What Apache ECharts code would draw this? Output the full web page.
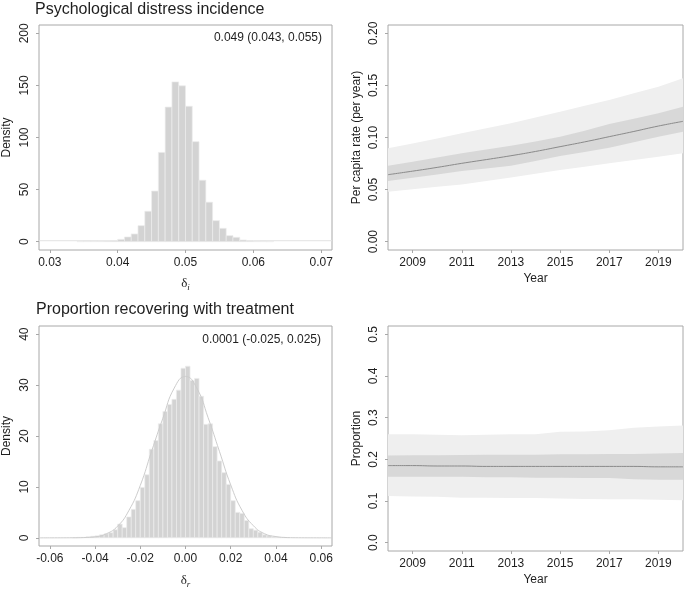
<!DOCTYPE html>
<html><head><meta charset="utf-8">
<script src="https://cdn.jsdelivr.net/npm/echarts@6/dist/echarts.min.js"></script>
<style>html,body{margin:0;padding:0;background:#fff}#c{width:685px;height:590px}</style>
</head><body><div id="c"></div>
<script>
// ---------- Data ----------
// Panel A: psychological distress incidence, posterior histogram (bin width 0.001)
const incBinStart = [0.034,0.035,0.036,0.037,0.038,0.039,0.040,0.041,0.042,0.043,0.044,0.045,0.046,0.047,0.048,0.049,0.050,0.051,0.052,0.053,0.054,0.055,0.056,0.057,0.058,0.059,0.060,0.061,0.062];
const incDensity  = [0.1,0.2,0.3,0.4,0.6,1.0,2.2,4.5,7.4,15.4,29.2,48.6,85.7,129.2,153.4,149.6,130.0,96.0,59.0,37.9,20.2,12.8,5.8,4.2,1.6,0.8,0.4,0.2,0.1];
const incBinWidth = 0.001;
const incPriorX = [0.0284,0.04,0.05,0.06,0.0716];
const incPriorY = [0.9,0.9,0.9,0.9,0.9];
const incXTicks = [0.03,0.04,0.05,0.06,0.07];
const incYTicks = [0,50,100,150,200];
const incSummary = '0.049 (0.043, 0.055)';

// Panel B: per capita incidence rate over time
const years = [2008,2009,2010,2011,2012,2013,2014,2015,2016,2017,2018,2019,2020];
const rateMedian  = [0.0643,0.0677,0.0713,0.0752,0.0788,0.0825,0.0866,0.0912,0.0958,0.1008,0.1058,0.1110,0.1155];
const rateInnerLo = [0.0582,0.0613,0.0645,0.0678,0.0703,0.0729,0.0775,0.0822,0.0862,0.0902,0.0955,0.1008,0.1056];
const rateInnerHi = [0.0729,0.0767,0.0807,0.0848,0.0884,0.0921,0.0962,0.1008,0.1066,0.1129,0.1180,0.1232,0.1296];
const rateOuterLo = [0.0480,0.0503,0.0527,0.0550,0.0583,0.0617,0.0652,0.0688,0.0720,0.0752,0.0785,0.0815,0.0850];
const rateOuterHi = [0.0896,0.0943,0.0991,0.1040,0.1088,0.1136,0.1192,0.1248,0.1304,0.1360,0.1424,0.1488,0.1570];
const yearTicks = [2009,2011,2013,2015,2017,2019];
const rateYTicks = [0,0.05,0.10,0.15,0.20];

// Panel C: proportion recovering with treatment, histogram (bin width 0.002)
const recBinStart = [-0.050,-0.048,-0.046,-0.044,-0.042,-0.040,-0.038,-0.036,-0.034,-0.032,-0.030,-0.028,-0.026,-0.024,-0.022,-0.020,-0.018,-0.016,-0.014,-0.012,-0.010,-0.008,-0.006,-0.004,-0.002,0.000,0.002,0.004,0.006,0.008,0.010,0.012,0.014,0.016,0.018,0.020,0.022,0.024,0.026,0.028,0.030,0.032,0.034,0.036,0.038,0.040,0.042,0.044];
const recDensity  = [0.05,0.1,0.1,0.2,0.3,0.4,0.6,0.8,1.0,1.6,2.7,2.0,4.1,5.6,7.3,9.9,12.4,17.4,19.1,22.4,24.8,26.2,27.2,29.0,33.3,33.7,30.9,31.3,27.8,22.3,22.4,17.9,15.1,12.8,10.5,7.3,5.0,4.8,3.4,1.8,1.5,1.1,0.6,0.4,0.2,0.15,0.1,0.05];
const recBinWidth = 0.002;
const recPriorX = [-0.0648,-0.05,-0.045,-0.04,-0.035,-0.03,-0.025,-0.02,-0.015,-0.01,-0.005,0,0.005,0.01,0.015,0.02,0.025,0.03,0.035,0.04,0.045,0.05,0.0648];
const recPriorY = [0,0.02,0.06,0.2,0.8,2.3,5.4,10.3,17.0,23.5,29.4,31.7,29.4,23.6,17.0,10.4,5.4,2.4,0.8,0.25,0.06,0.02,0];
const recXTicks = [-0.06,-0.04,-0.02,0.00,0.02,0.04,0.06];
const recYTicks = [0,10,20,30,40];
const recSummary = '0.0001 (-0.025, 0.025)';

// Panel D: proportion over time
const propMedian  = [0.185,0.185,0.184,0.184,0.183,0.183,0.183,0.183,0.183,0.183,0.183,0.182,0.182];
const propInnerLo = [0.158,0.158,0.158,0.158,0.157,0.157,0.156,0.156,0.155,0.155,0.152,0.151,0.151];
const propInnerHi = [0.209,0.210,0.210,0.2105,0.211,0.211,0.211,0.212,0.212,0.213,0.213,0.214,0.215];
const propOuterLo = [0.112,0.111,0.110,0.108,0.108,0.107,0.107,0.106,0.105,0.104,0.104,0.103,0.102];
const propOuterHi = [0.260,0.260,0.259,0.258,0.259,0.260,0.260,0.266,0.267,0.270,0.276,0.279,0.281];
const propYTicks = [0.0,0.1,0.2,0.3,0.4,0.5];

// ---------- Styling / helpers ----------
const FONT = "'Liberation Sans', Arial, Helvetica, sans-serif";
const TXT = '#1e1e1e';
const BOX = '#a8a8a8';

function xAxis(gi, min, max, ticks, fmt, name, gap, rich) {
  return {
    type: 'value', gridIndex: gi, min: min, max: max,
    splitLine: {show: false},
    axisLine: {show: false, onZero: false},
    axisTick: {show: true, length: 3, inside: false, customValues: ticks, lineStyle: {color: BOX}},
    axisLabel: {customValues: ticks, formatter: fmt, margin: 7, color: TXT, fontSize: 12, fontFamily: FONT, showMinLabel: true, showMaxLabel: true},
    name: name, nameLocation: 'middle', nameGap: gap,
    nameTextStyle: Object.assign({color: TXT, fontSize: 12, fontFamily: FONT}, rich ? {rich: rich} : {})
  };
}
function yAxis(gi, min, max, ticks, fmt, name, gap) {
  return {
    type: 'value', gridIndex: gi, min: min, max: max,
    splitLine: {show: false},
    axisLine: {show: false, onZero: false},
    axisTick: {show: true, length: 3, inside: false, customValues: ticks, lineStyle: {color: BOX}},
    axisLabel: {customValues: ticks, formatter: fmt, rotate: 90, margin: 8, color: TXT, fontSize: 12, fontFamily: FONT, showMinLabel: true, showMaxLabel: true},
    name: name, nameLocation: 'middle', nameGap: gap, nameRotate: 90,
    nameTextStyle: {color: TXT, fontSize: 12, fontFamily: FONT}
  };
}
function histSeries(i, starts, heights, width) {
  return {
    type: 'custom', xAxisIndex: i, yAxisIndex: i, silent: true, z: 2,
    data: starts.map((s, k) => [s, s + width, heights[k]]),
    encode: {x: [0, 1], y: 2},
    renderItem: function (params, api) {
      const p0 = api.coord([api.value(0), api.value(2)]);
      const p1 = api.coord([api.value(1), 0]);
      return {type: 'rect', shape: {x: p0[0], y: p0[1], width: p1[0] - p0[0], height: p1[1] - p0[1]},
              style: {fill: '#d3d3d3', stroke: '#ececec', lineWidth: 0.7}};
    }
  };
}
function bandSeries(i, xs, lo, hi, color, z) {
  return {
    type: 'custom', xAxisIndex: i, yAxisIndex: i, silent: true, z: z,
    data: xs.map((x, k) => [x, lo[k], hi[k]]),
    encode: {x: 0, y: [1, 2]},
    renderItem: function (params, api) {
      if (params.dataIndex !== 0) return null;
      const pts = [];
      for (let k = 0; k < xs.length; k++) pts.push(api.coord([xs[k], hi[k]]));
      for (let k = xs.length - 1; k >= 0; k--) pts.push(api.coord([xs[k], lo[k]]));
      return {type: 'polygon', shape: {points: pts}, style: {fill: color}};
    }
  };
}
function lineSeries(i, xs, ys, color, z, smooth) {
  return {
    type: 'line', xAxisIndex: i, yAxisIndex: i, silent: true, z: z,
    data: xs.map((x, k) => [x, ys[k]]), showSymbol: false, smooth: smooth,
    lineStyle: {color: color, width: 1}
  };
}

const gridBase = {show: true, borderColor: BOX, borderWidth: 1, backgroundColor: 'transparent', containLabel: false};
const deltaRich = {
  d: {fontFamily: "'Liberation Serif', 'DejaVu Serif', serif", fontSize: 13, color: TXT},
  s: {fontFamily: "'Liberation Serif', 'DejaVu Serif', serif", fontSize: 9, fontStyle: 'italic', color: TXT, padding: [7, 0, 0, 0]}
};

const chart = echarts.init(document.getElementById('c'), null, {renderer: 'canvas'});
chart.setOption({
  animation: false,
  backgroundColor: '#fff',
  grid: [
    Object.assign({left: 35, top: 25, width: 297, height: 225}, gridBase),
    Object.assign({left: 388, top: 25, width: 295, height: 225}, gridBase),
    Object.assign({left: 35, top: 326, width: 297, height: 225}, gridBase),
    Object.assign({left: 388, top: 326, width: 295, height: 225}, gridBase)
  ],
  xAxis: [
    xAxis(0, 0.0284, 0.0716, incXTicks, v => v.toFixed(2), '{d|δ}{s|i}', 26, deltaRich),
    xAxis(1, 2008, 2020, yearTicks, v => String(v), 'Year', 23),
    xAxis(2, -0.0648, 0.0648, recXTicks, v => v.toFixed(2), '{d|δ}{s|r}', 27, deltaRich),
    xAxis(3, 2008, 2020, yearTicks, v => String(v), 'Year', 23)
  ],
  yAxis: [
    yAxis(0, -8, 208, incYTicks, v => String(v), 'Density', 26),
    yAxis(1, -0.008, 0.208, rateYTicks, v => v.toFixed(2), 'Per capita rate (per year)', 25),
    yAxis(2, -1.6, 41.6, recYTicks, v => String(v), 'Density', 26),
    yAxis(3, -0.02, 0.52, propYTicks, v => v.toFixed(1), 'Proportion', 25)
  ],
  series: [
    lineSeries(0, incPriorX, incPriorY, '#e2e2e2', 1, false),
    histSeries(0, incBinStart, incDensity, incBinWidth),
    bandSeries(1, years, rateOuterLo, rateOuterHi, '#efefef', 1),
    bandSeries(1, years, rateInnerLo, rateInnerHi, '#d8d8d8', 2),
    lineSeries(1, years, rateMedian, '#8a8a8a', 3, true),
    histSeries(2, recBinStart, recDensity, recBinWidth),
    lineSeries(2, recPriorX, recPriorY, '#cdcdcd', 3, true),
    bandSeries(3, years, propOuterLo, propOuterHi, '#efefef', 1),
    bandSeries(3, years, propInnerLo, propInnerHi, '#d8d8d8', 2),
    lineSeries(3, years, propMedian, '#8a8a8a', 3, true)
  ],
  graphic: [
    {type: 'text', x: 35, y: 2, style: {text: 'Psychological distress incidence', font: '16px ' + FONT, fill: TXT, verticalAlign: 'top'}},
    {type: 'text', x: 36, y: 302, style: {text: 'Proportion recovering with treatment', font: '16px ' + FONT, fill: TXT, verticalAlign: 'top'}},
    {type: 'text', x: 322, y: 38, style: {text: incSummary, font: '12px ' + FONT, fill: TXT, align: 'right', verticalAlign: 'middle'}},
    {type: 'text', x: 321, y: 340, style: {text: recSummary, font: '12px ' + FONT, fill: TXT, align: 'right', verticalAlign: 'middle'}}
  ]
});
</script>
</body></html>
